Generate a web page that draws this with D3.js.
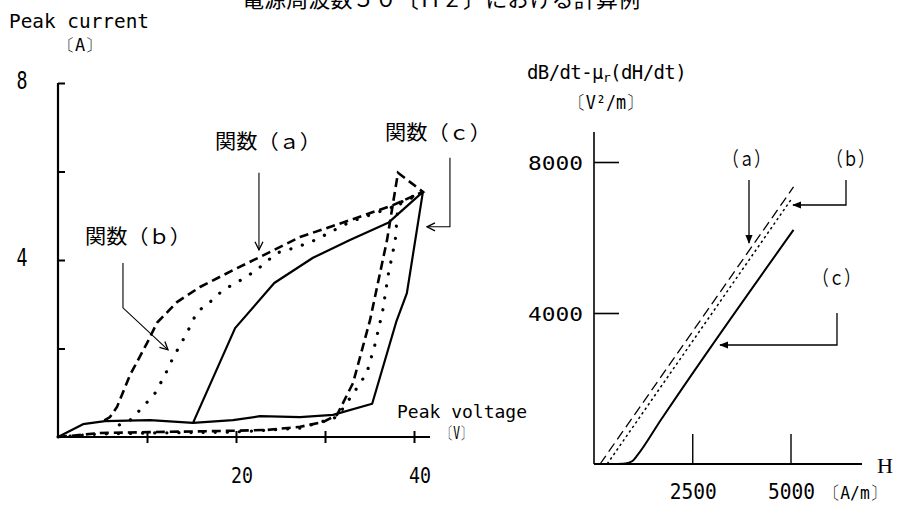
<!DOCTYPE html>
<html><head><meta charset="utf-8">
<script src="https://cdn.jsdelivr.net/npm/d3@7"></script>
<style>body{margin:0;background:#fff}svg{display:block}</style>
</head><body>
<svg id="c" width="901" height="511"></svg>
<script>
// ---------------- data ----------------
const titleText = "電源周波数５０〔Ｈｚ〕における計算例";
const leftYTicks = [2, 4, 6, 8];
const leftYLabels = ["4", "8"];
const leftXTicks = [10, 20, 30, 40];
const leftXLabels = ["20", "40"];
const rightYTicks = [4000, 8000];
const rightYLabels = ["4000", "8000"];
const rightXTicks = [2500, 5000];
const rightXLabels = ["2500", "5000"];

// Left chart: Peak voltage [V] vs Peak current [A]
// 関数(a) – dashed
const funcA = [[0,0],[4.72,0.09],[10.34,0.11],[19.66,0.14],[23.5,0.16],[27.2,0.23],[29.8,0.34],[31.35,0.5],
  [33.15,1.22],[35.06,2.64],[36.97,4.45],[38.2,5.97],[41.0,5.54],[37.64,5.24],[32.8,4.9],[27.2,4.52],
  [22.7,4.07],[19.66,3.77],[15.96,3.39],[13.37,3.05],[11.12,2.58],[10.0,2.12],[8.09,1.4],[6.63,0.68],
  [5.84,0.45],[5.06,0.36]];
// 関数(b) – dotted
const funcB = [[0,0],[4.72,0.07],[10.34,0.09],[19.66,0.11],[27.2,0.2],[31.35,0.45],[33.6,1.11],[34.7,1.45],
  [35.6,2.08],[36.5,2.87],[37.1,3.66],[37.9,4.45],[38.2,5.24],[41.0,5.54],[39.0,5.36],[37.64,5.2],
  [32.8,4.86],[28.9,4.45],[26.85,4.29],[24.6,4.16],[22.7,3.84],[21.2,3.62],[18.54,3.32],[17.08,3.05],
  [15.6,2.82],[14.83,2.49],[13.93,2.15],[12.92,1.79],[12.02,1.4],[10.9,0.99],[9.55,0.68],[8.09,0.38],[6.4,0.23]];
// 関数(c) – solid
const funcC = [[0,0],[2.81,0.29],[5.28,0.36],[10.34,0.38],[15.17,0.32],[19.66,0.38],[22.7,0.47],[27.2,0.45],
  [30.9,0.5],[35.3,0.75],[38.0,2.6],[39.2,3.25],[41.0,5.54],[37.1,4.84],[32.8,4.45],[28.65,4.05],
  [24.3,3.48],[19.9,2.46],[15.17,0.32]];

// Right chart: H [A/m] vs dB/dt-μr(dH/dt) [V²/m]
const rightA = [[155,0],[5077,7338]];
const rightB = [[335,0],[5025,7020]];
const rightC = [[490,0],[800,13],[980,80],[1110,240],[1700,1165],[5077,6200]];

// ---------------- drawing ----------------
const svg = d3.select("#c");
const mono = "'DejaVu Sans Mono', 'Liberation Mono', monospace";
const cjk = "'Noto Sans CJK JP', 'Noto Sans CJK SC', sans-serif";

const defs = svg.append("defs");
defs.append("marker").attr("id","arr").attr("viewBox","0 0 10 10").attr("refX",9).attr("refY",5)
  .attr("markerWidth",10).attr("markerHeight",10).attr("markerUnits","userSpaceOnUse").attr("orient","auto")
  .append("path").attr("d","M1,1 L9,5 L1,9").attr("fill","none").attr("stroke","#000").attr("stroke-width",1.3);
defs.append("marker").attr("id","arrF").attr("viewBox","0 0 10 10").attr("refX",9).attr("refY",5)
  .attr("markerWidth",9).attr("markerHeight",9).attr("markerUnits","userSpaceOnUse").attr("orient","auto")
  .append("path").attr("d","M0,1 L10,5 L0,9 Z").attr("fill","#000");

function txt(s, x, y, size, family, opts = {}) {
  const t = svg.append("text").attr("x", x).attr("y", y).attr("font-size", size)
    .attr("font-family", family).attr("fill", "#000")
    .attr("dominant-baseline", opts.baseline || "central")
    .attr("text-anchor", opts.anchor || "start").text(s);
  if (opts.len) t.attr("textLength", opts.len).attr("lengthAdjust", "spacingAndGlyphs");
  if (opts.weight) t.attr("font-weight", opts.weight);
  return t;
}

// title (the reference shows it cut by the top edge)
txt(titleText, 242, 7, 22, cjk, {baseline: "alphabetic", len: 398});

// ===== Left chart =====
const lx = d3.scaleLinear().domain([0, 40]).range([58, 414]);
const ly = d3.scaleLinear().domain([0, 8]).range([437, 83]);
const L = svg.append("g");

L.append("line").attr("x1", lx(0)).attr("x2", lx(0)).attr("y1", ly(0)).attr("y2", ly(8))
  .attr("stroke", "#000").attr("stroke-width", 2.2);
L.append("line").attr("x1", lx(0)).attr("x2", lx(41.8)).attr("y1", ly(0)).attr("y2", ly(0))
  .attr("stroke", "#000").attr("stroke-width", 2.2);
const yAx = L.append("g").attr("transform", `translate(${lx(0)},0)`)
  .call(d3.axisLeft(ly).tickValues(leftYTicks).tickSize(7).tickSizeOuter(0).tickFormat(""));
yAx.select(".domain").remove();
yAx.selectAll(".tick line").attr("x2", 7).attr("stroke-width", 2);
const xAx = L.append("g").attr("transform", `translate(0,${ly(0)})`)
  .call(d3.axisBottom(lx).tickValues(leftXTicks).tickSize(6).tickSizeOuter(0).tickFormat(""));
xAx.select(".domain").remove();
xAx.selectAll(".tick line").attr("y1", -6).attr("stroke-width", 2);

leftYLabels.forEach(s => txt(s, 22, ly(+s) - 2, 24, mono, {anchor: "middle", len: 11}));
leftXLabels.forEach(s => txt(s, lx(+s) + 6, 475, 22, mono, {anchor: "middle", len: 22}));

txt("Peak current", 9, 21, 20, mono, {len: 140});
txt("〔A〕", 58, 45, 17, mono, {len: 44});
txt("Peak voltage", 397, 411, 18, mono, {len: 130});
txt("〔V〕", 442, 433, 17, mono, {len: 29});

const lline = d3.line().x(d => lx(d[0])).y(d => ly(d[1]));
L.append("path").attr("d", lline(funcC)).attr("fill", "none").attr("stroke", "#000")
  .attr("stroke-width", 2.2).attr("stroke-linejoin", "round");
L.append("path").attr("d", lline(funcA)).attr("fill", "none").attr("stroke", "#000")
  .attr("stroke-width", 2.6).attr("stroke-dasharray", "9,5");
L.append("path").attr("d", lline(funcB)).attr("fill", "none").attr("stroke", "#000")
  .attr("stroke-width", 3.2).attr("stroke-linecap", "round").attr("stroke-dasharray", "0.1,12");

const annLeft = [
  {label: "関数（ａ）", pos: [17.64, 6.71], path: [[22.58, 5.97], [22.58, 4.23]]},
  {label: "関数（ｂ）", pos: [3.03, 4.56], path: [[7.3, 3.93], [7.3, 2.92], [12.36, 1.97]]},
  {label: "関数（ｃ）", pos: [36.74, 6.9], path: [[44.04, 6.31], [44.04, 4.75], [41.46, 4.75]]}
];
annLeft.forEach(a => {
  txt(a.label, lx(a.pos[0]), ly(a.pos[1]), 20, cjk, {len: 106});
  L.append("path").attr("d", lline(a.path)).attr("fill", "none").attr("stroke", "#000")
    .attr("stroke-width", 1.1).attr("marker-end", "url(#arr)");
});

// ===== Right chart =====
const rx = d3.scaleLinear().domain([0, 5000]).range([594, 790.5]);
const ry = d3.scaleLinear().domain([0, 8000]).range([464, 162]);
const R = svg.append("g");
R.append("line").attr("x1", rx(0)).attr("x2", rx(0)).attr("y1", ry(0)).attr("y2", ry(8795))
  .attr("stroke", "#000").attr("stroke-width", 1.6);
R.append("line").attr("x1", rx(0)).attr("x2", rx(6819)).attr("y1", ry(0)).attr("y2", ry(0))
  .attr("stroke", "#000").attr("stroke-width", 1.8);
const ryAx = R.append("g").attr("transform", `translate(${rx(0)},0)`)
  .call(d3.axisRight(ry).tickValues(rightYTicks).tickSize(25).tickSizeOuter(0).tickFormat(""));
ryAx.select(".domain").remove();
ryAx.selectAll(".tick line").attr("stroke-width", 1.6);
const rxAx = R.append("g").attr("transform", `translate(0,${ry(0)})`)
  .call(d3.axisTop(rx).tickValues(rightXTicks).tickSize(30).tickSizeOuter(0).tickFormat(""));
rxAx.select(".domain").remove();
rxAx.selectAll(".tick line").attr("stroke-width", 1.4);

rightYLabels.forEach(s => txt(s, 583, ry(+s) + 1, 20, mono, {anchor: "end", len: 55}));
rightXLabels.forEach(s => txt(s, rx(+s) + 1, 492, 21, mono, {anchor: "middle", len: 47}));
txt("〔A/m〕", 824, 492, 18, mono, {len: 62});
txt("H", rx(7201), ry(0) + 1, 22, "'Liberation Serif', serif", {len: 16});

const ylab = svg.append("text").attr("x", 527).attr("y", 72).attr("font-size", 19)
  .attr("font-family", mono).attr("dominant-baseline", "central").attr("letter-spacing", -0.6);
ylab.append("tspan").text("dB/dt-μ");
ylab.append("tspan").attr("font-size", 13).attr("dy", 5).text("r");
ylab.append("tspan").attr("dy", -5).text("(dH/dt)");
txt("〔V²/m〕", 569, 102, 19, mono, {len: 74});

const rline = d3.line().x(d => rx(d[0])).y(d => ry(d[1]));
R.append("path").attr("d", rline(rightA)).attr("fill", "none").attr("stroke", "#000")
  .attr("stroke-width", 1.3).attr("stroke-dasharray", "10,5");
R.append("path").attr("d", rline(rightB)).attr("fill", "none").attr("stroke", "#000")
  .attr("stroke-width", 1.5).attr("stroke-dasharray", "2.5,3");
R.append("path").attr("d", d3.line().x(d => rx(d[0])).y(d => ry(d[1])).curve(d3.curveMonotoneX)(rightC))
  .attr("fill", "none").attr("stroke", "#000").attr("stroke-width", 2);

const annRight = [
  {label: "（ａ）", pos: [3282, 8106], path: [[3944, 7523], [3944, 5854]]},
  {label: "（ｂ）", pos: [5929, 8106], path: [[6412, 7523], [6412, 6861], [5064, 6861]]},
  {label: "（ｃ）", pos: [5572, 4954], path: [[6183, 4000], [6183, 3152], [3206, 3152]]}
];
annRight.forEach(a => {
  txt(a.label, rx(a.pos[0]), ry(a.pos[1]), 20, cjk, {len: 47});
  R.append("path").attr("d", rline(a.path)).attr("fill", "none").attr("stroke", "#000")
    .attr("stroke-width", 1.3).attr("marker-end", "url(#arrF)");
});
</script>
</body></html>
